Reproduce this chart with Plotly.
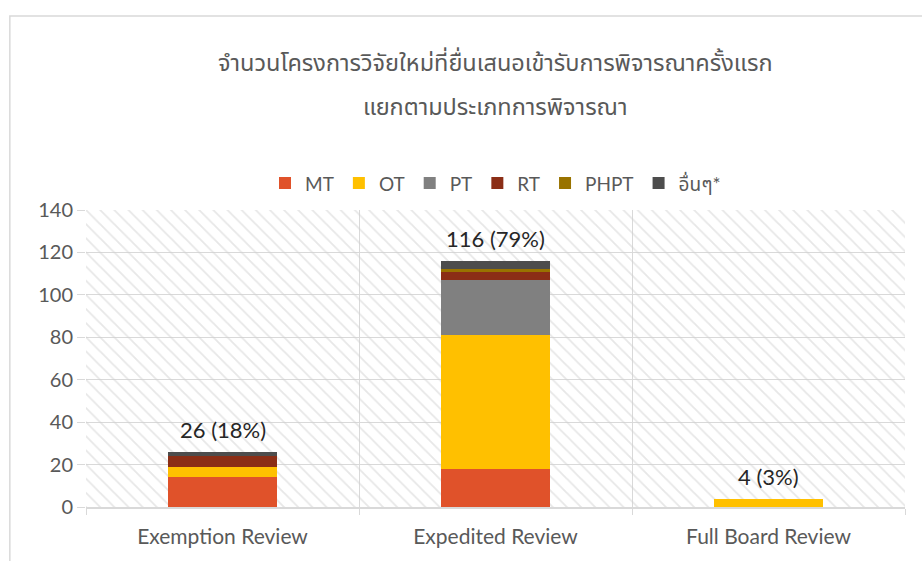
import plotly.graph_objects as go

categories = ["Exemption Review", "Expedited Review", "Full Board Review"]
series_names = ["MT", "OT", "PT", "RT", "PHPT", "อื่นๆ*"]
series_colors = ["#E0522A", "#FFC000", "#808080", "#8B2E16", "#997300", "#4D4D4D"]
mt = [14, 18, 0]
ot = [5, 63, 4]
pt = [0, 26, 0]
rt = [5, 4, 0]
phpt = [0, 1, 0]
other = [2, 4, 0]
totals = [26, 116, 4]
total_labels = ["26 (18%)", "116 (79%)", "4 (3%)"]
axis_max = [140, 140, 140]

title_line1 = "จำนวนโครงการวิจัยใหม่ที่ยื่นเสนอเข้ารับการพิจารณาครั้งแรก"
title_line2 = "แยกตามประเภทการพิจารณา"

values = [mt, ot, pt, rt, phpt, other]
GRAY = "#595959"
GRID = "#D9D9D9"
FONT = "Lato, 'Noto Sans Thai', 'Noto Sans', sans-serif"

fig = go.Figure()

# hatched plot-area background (per category column)
fig.add_trace(go.Bar(
    x=categories, y=axis_max, width=1, xaxis="x", yaxis="y",
    marker=dict(color="rgba(0,0,0,0)", line=dict(width=0),
                pattern=dict(shape="\\", fgcolor="#CFCFCF", bgcolor="rgba(0,0,0,0)",
                             size=10, solidity=0.18)),
    showlegend=False, hoverinfo="skip"))

for name, col, vals in zip(series_names, series_colors, values):
    fig.add_trace(go.Bar(x=categories, y=vals, name=name, width=0.4,
                         marker=dict(color=col, line=dict(width=0)),
                         xaxis="x2", yaxis="y"))

for c, t, lab in zip(categories, totals, total_labels):
    fig.add_annotation(x=c, y=t, xref="x2", yref="y", text=lab, showarrow=False,
                       yanchor="bottom", yshift=7,
                       font=dict(family=FONT, size=22, color="#262626"))

fig.add_annotation(x=0.5, y=1.50, xref="paper", yref="paper", text=title_line1,
                   showarrow=False, xanchor="center", yanchor="middle",
                   font=dict(family=FONT, size=23.5, color=GRAY))
fig.add_annotation(x=0.5, y=1.35, xref="paper", yref="paper", text=title_line2,
                   showarrow=False, xanchor="center", yanchor="middle",
                   font=dict(family=FONT, size=23.5, color=GRAY))

fig.add_shape(type="rect", xref="paper", yref="paper", x0=-0.093, x1=1.2, y0=-0.3, y1=1.653,
              line=dict(color=GRID, width=1.5), layer="below")

fig.update_layout(
    width=922, height=561,
    margin=dict(l=86, r=17, t=210, b=54, autoexpand=False),
    paper_bgcolor="white", plot_bgcolor="white",
    barmode="stack", bargap=0,
    showlegend=True,
    legend=dict(orientation="h", x=0.5, xanchor="center", y=1.09, yanchor="middle",
                font=dict(family=FONT, size=19, color=GRAY), itemwidth=30,
                traceorder="normal"),
    xaxis=dict(categoryorder="array", categoryarray=categories, range=[-0.5, 2.5],
               tickson="boundaries", showgrid=True, gridcolor=GRID, gridwidth=1,
               ticks="outside", ticklen=6, tickcolor=GRID, showline=True, linecolor=GRID,
               linewidth=1.5, ticklabelstandoff=10,
               tickfont=dict(family=FONT, size=21, color=GRAY), zeroline=False),
    xaxis2=dict(overlaying="x", categoryorder="array", categoryarray=categories,
                range=[-0.5, 2.5], showticklabels=False, showgrid=False, ticks="",
                showline=False, zeroline=False),
    yaxis=dict(range=[0, 140], dtick=20, showgrid=True, gridcolor=GRID, gridwidth=1,
               ticks="outside", ticklen=8, tickcolor=GRID, showline=False, zeroline=False,
               tickfont=dict(family=FONT, size=20, color=GRAY)),
    font=dict(family=FONT, color=GRAY),
)

fig.write_html("out.html", config={"displayModeBar": False},
               post_script="document.body.style.margin='0';document.body.style.overflow='hidden';")
